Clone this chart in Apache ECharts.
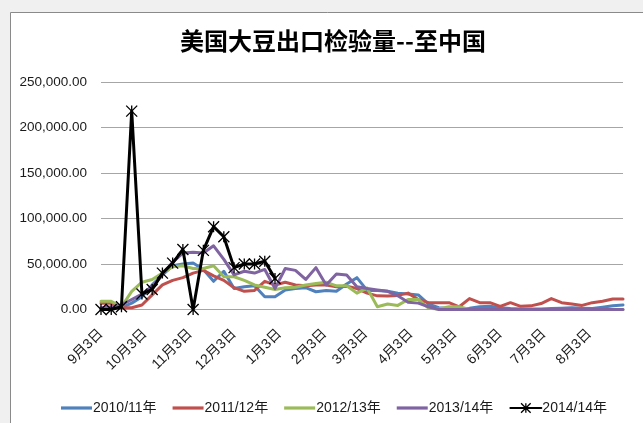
<!DOCTYPE html>
<html>
<head>
<meta charset="utf-8">
<script src="https://cdn.jsdelivr.net/npm/echarts@6/dist/echarts.min.js"></script>
<style>
html,body{margin:0;padding:0;background:#f0f0f0;}
#chart{width:643px;height:423px;}
</style>
</head>
<body>
<div id="chart"></div>
<script>
// ---- data ----
const titleText = '美国大豆出口检验量--至中国';
const seasonNames = ['2010/11年', '2011/12年', '2012/13年', '2013/14年', '2014/14年'];
const tickLabels = ['9月3日', '10月3日', '11月3日', '12月3日', '1月3日', '2月3日', '3月3日', '4月3日', '5月3日', '6月3日', '7月3日', '8月3日'];
const weekCount = 52; // weekly inspections starting 9月3日

const s2010 = [1000,1000,2000,7000,14000,27000,38000,48000,50000,51000,
  44000,31000,42000,23000,25000,26000,14000,14000,21500,23000,
  24000,19500,21000,20000,28000,35000,21000,21000,20000,18000,
  17000,16000,6000,2000,1000,1000,1500,3000,3500,2000,
  1000,500,500,500,1000,1500,2000,1500,1000,2500,
  4000,5000];
const s2011 = [7000,7000,2000,2000,5000,16000,27000,32000,35000,40000,
  43000,37000,32000,24000,20000,21000,31000,27000,30000,27000,
  26000,27000,27000,25000,25500,23000,18000,15000,14800,15500,
  18000,11000,7500,7500,7500,3000,12000,7500,7500,3500,
  7500,3500,4000,6500,12000,7500,6000,4500,7500,9000,
  11500,11500];
const s2012 = [9000,9000,3000,20000,30000,33000,40000,47000,48000,45000,
  45000,48000,36000,36000,32000,27000,24500,22000,24000,24500,
  27000,28500,30000,26000,26000,18000,23500,3000,6000,4500,
  11000,11000,1500,500,3000,3000,0,0,0,0,
  0,0,0,0,0,0,0,0,0,0,
  0,0];
const s2013 = [2000,3000,5000,11000,17000,25000,38000,52000,62000,63000,
  62000,70000,55000,38000,42000,40000,44000,23000,45000,43000,
  33000,46000,27000,39000,38000,25000,23000,21500,20000,15000,
  8000,7000,3000,0,0,0,0,0,0,0,
  0,0,0,0,0,0,0,0,0,0,
  0,0];
const s2014 = [0,0,3000,218000,17000,22000,40000,51000,66000,0,
  65000,91000,80000,46000,50000,50000,53000,34000];

const seriesValues = [s2010, s2011, s2012, s2013, s2014];
const colors = ['#4F81BD', '#C0504D', '#9BBB59', '#8064A2', '#000000'];

// week dates (season year 2014/15 used as calendar reference)
const weeks = [];
for (let i = 0; i < weekCount; i++) weeks.push(new Date(2014, 8, 3 + 7 * i).getTime());
const tickValues = tickLabels.map(t => {
  const m = parseInt(t, 10);
  const d = parseInt(t.split('月')[1], 10);
  return new Date(m >= 9 ? 2014 : 2015, m - 1, d).getTime();
});
function dateLabel(v) {
  const d = new Date(v);
  return (d.getMonth() + 1) + '月' + d.getDate() + '日';
}
function numLabel(v) {
  const s = Math.round(v).toString().replace(/\B(?=(\d{3})+(?!\d))/g, ',');
  return s + '.00';
}

const chart = echarts.init(document.getElementById('chart'), null, {renderer: 'canvas'});
const font = "'Liberation Sans', 'Noto Sans CJK SC', sans-serif";
const starPath = 'path://M0,0L10,10M10,0L0,10M5,0L5,10';
const barIcon = 'path://M0,0H31V3.2H0Z';

const series = seriesValues.map((vals, k) => {
  const isBlack = k === 4;
  return {
    name: seasonNames[k],
    type: 'line',
    data: vals.map((v, i) => [weeks[i], v]),
    symbol: isBlack ? starPath : 'none',
    symbolSize: 11,
    showSymbol: isBlack,
    lineStyle: {color: colors[k], width: 3, cap: 'round', join: 'round'},
    itemStyle: isBlack ? {color: 'rgba(0,0,0,0)', borderColor: '#000', borderWidth: 1.3} : {color: colors[k]},
    emphasis: {disabled: true},
    animation: false,
    z: 2 + k
  };
});

chart.setOption({
  backgroundColor: '#f0f0f0',
  animation: false,
  graphic: [{
    type: 'rect', z: -10, silent: true,
    shape: {x: 10.5, y: 12.5, width: 700, height: 500},
    style: {fill: '#ffffff', stroke: '#8a8a8a', lineWidth: 1}
  }],
  title: {
    text: titleText,
    left: 333, top: 29, textAlign: 'center', padding: 0,
    textStyle: {fontFamily: "'Noto Sans CJK SC', sans-serif", fontSize: 24, fontWeight: 600, color: '#000'}
  },
  legend: {
    data: seasonNames.map((n, k) => k === 4
      ? {name: n, itemStyle: {color: 'rgba(0,0,0,0)', borderColor: '#000', borderWidth: 1.3}}
      : {name: n, icon: barIcon, itemStyle: {color: colors[k]}}),
    left: 56, top: 396, itemWidth: 31, itemHeight: 12, itemGap: 16,
    textStyle: {fontFamily: font, fontSize: 14, color: '#1a1a1a', padding: [0, 0, 0, -4]},
    selectedMode: false
  },
  grid: {left: 101, right: 20, top: 82, bottom: 113.5, containLabel: false, outerBoundsMode: 'none'},
  xAxis: {
    type: 'value',
    min: weeks[0],
    max: weeks[weekCount - 1],
    splitLine: {show: false},
    axisTick: {show: false},
    axisLine: {lineStyle: {color: '#a6a6a6', width: 1}},
    axisLabel: {
      customValues: tickValues,
      formatter: v => dateLabel(v),
      rotate: 45, margin: 22,
      fontFamily: font, fontSize: 14, color: '#1a1a1a',
      hideOverlap: false, showMinLabel: true, showMaxLabel: true
    }
  },
  yAxis: {
    type: 'value',
    min: 0, max: 250000, interval: 50000,
    axisLine: {show: false},
    axisTick: {show: false},
    splitLine: {lineStyle: {color: '#a6a6a6', width: 1}},
    axisLabel: {formatter: v => numLabel(v), margin: 14, fontFamily: font, fontSize: 13.5, color: '#1a1a1a'}
  },
  series: series
});
</script>
</body>
</html>
